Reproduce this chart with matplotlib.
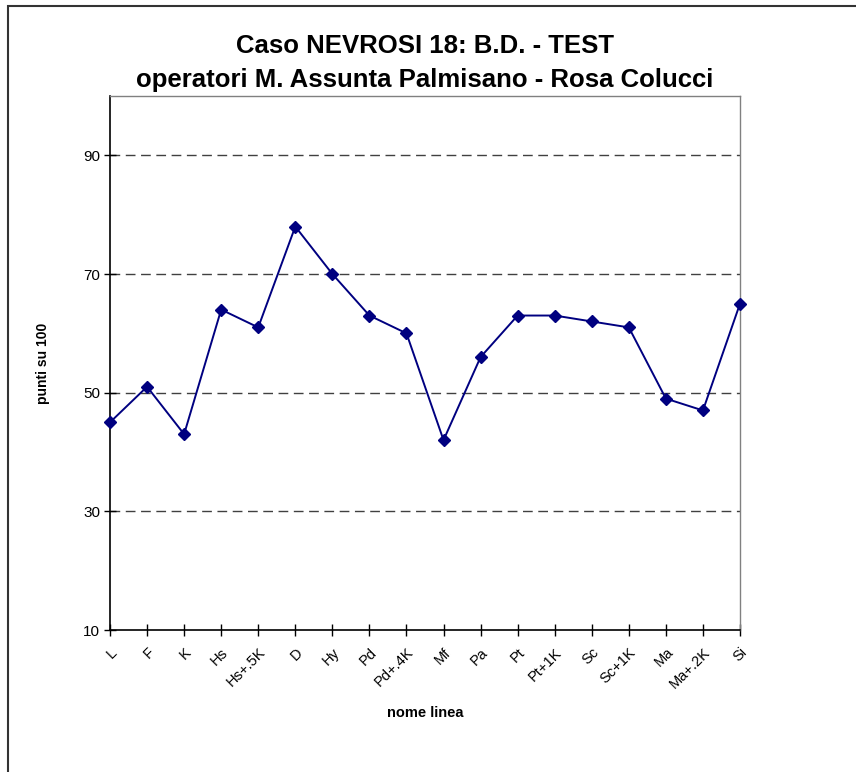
import matplotlib
matplotlib.use("Agg")
import matplotlib.pyplot as plt
from matplotlib.patches import Rectangle

categories = ["L", "F", "K", "Hs", "Hs+.5K", "D", "Hy", "Pd", "Pd+.4K", "Mf",
              "Pa", "Pt", "Pt+1K", "Sc", "Sc+1K", "Ma", "Ma+.2K", "Si"]
values = [45, 51, 43, 64, 61, 78, 70, 63, 60, 42, 56, 63, 63, 62, 61, 49, 47, 65]
yticks = [10, 30, 50, 70, 90]

plt.rcParams['font.family'] = ['Liberation Sans', 'DejaVu Sans']

fig = plt.figure(figsize=(8.56, 7.72), dpi=100)
ax = fig.add_axes([110/856, 1-630/772, 630/856, 534/772])

x = list(range(len(categories)))
ax.plot(x, values, color='#000080', linewidth=1.4, marker='D', markersize=6,
        markerfacecolor='#000080', markeredgecolor='#000080', zorder=3, clip_on=False)

ax.set_xlim(0, len(categories)-1)
ax.set_ylim(10, 100)
ax.set_yticks(yticks)
ax.set_xticks(x)
ax.set_xticklabels(categories, rotation=45, ha='right', rotation_mode='anchor', fontsize=10.5)
ax.tick_params(axis='y', direction='inout', length=9, width=1, labelsize=11, pad=2.5)
ax.tick_params(axis='x', direction='inout', length=8, width=1, pad=7)

for yv in yticks[1:]:
    ax.axhline(yv, color='#404040', linewidth=1, linestyle=(0, (7, 4)), zorder=1)

for s in ['left', 'bottom']:
    ax.spines[s].set_color('black')
    ax.spines[s].set_linewidth(1.2)
for s in ['top', 'right']:
    ax.spines[s].set_color('#808080')
    ax.spines[s].set_linewidth(1)

ax.set_ylabel("punti su 100", fontsize=10, fontweight='bold', labelpad=24)
ax.set_xlabel("nome linea", fontsize=10.5, fontweight='bold', labelpad=11)

fig.text(425/856, 1-46/772, "Caso NEVROSI 18: B.D. - TEST", ha='center', va='center',
         fontsize=18.5, fontweight='bold')
fig.text(425/856, 1-80/772, "operatori M. Assunta Palmisano - Rosa Colucci", ha='center',
         va='center', fontsize=18.5, fontweight='bold')

fig.patches.append(Rectangle((8/856, -0.1), 1.2, 1.1 - 6/772, transform=fig.transFigure,
                             fill=False, edgecolor='#333333', linewidth=1.5))

fig.savefig("out.png", dpi=100)
